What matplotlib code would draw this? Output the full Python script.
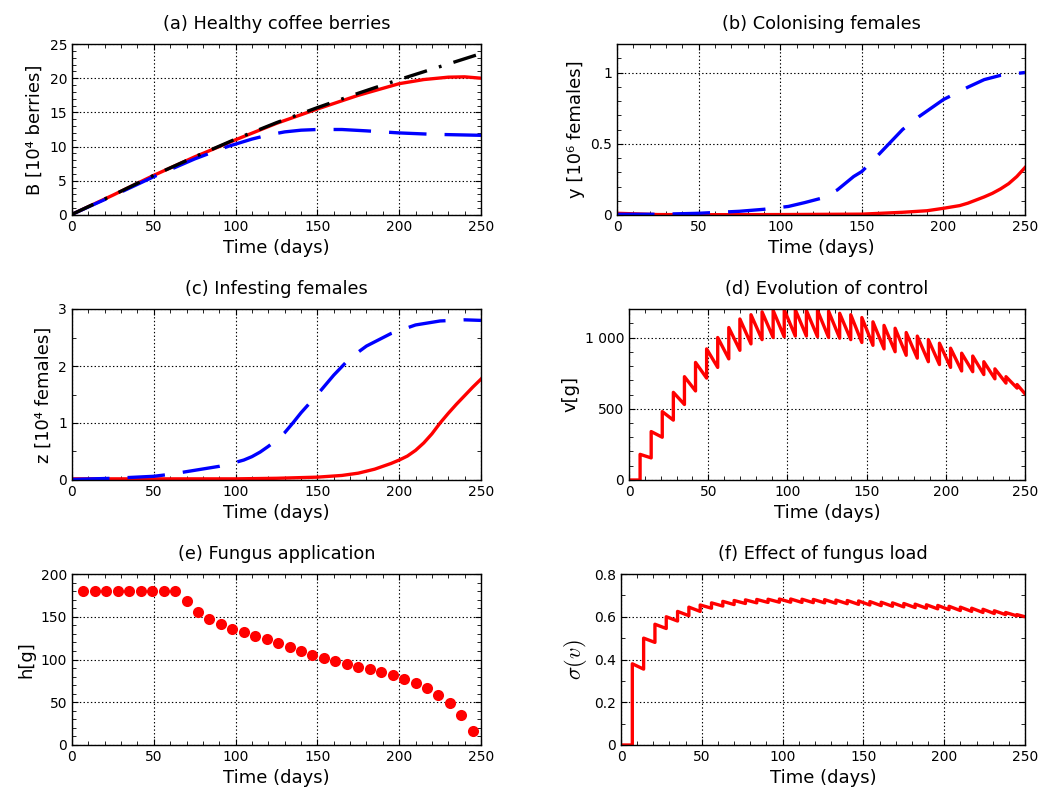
import matplotlib
matplotlib.use("Agg")
import matplotlib.pyplot as plt
import numpy as np
from matplotlib.ticker import MultipleLocator, FuncFormatter

plt.rcParams['font.family'] = ['DejaVu Sans']
plt.rcParams['lines.scale_dashes'] = False

# (a) healthy berries [10^4]
a_black_t = [0, 25, 50, 75, 100, 125, 150, 175, 200, 225, 250]
a_black = [0.1, 2.9, 5.8, 8.5, 11.1, 13.5, 15.7, 17.8, 19.8, 21.7, 23.6]
a_red_t = [0, 25, 50, 75, 100, 125, 150, 175, 200, 215, 230, 240, 250]
a_red = [0.1, 2.9, 5.8, 8.5, 11.0, 13.4, 15.5, 17.5, 19.2, 19.8, 20.15, 20.2, 20.0]
a_blue_t = [0, 25, 50, 75, 95, 110, 120, 130, 140, 150, 165, 180, 200, 220, 250]
a_blue = [0.1, 2.8, 5.6, 8.2, 10.0, 11.1, 11.7, 12.15, 12.4, 12.5, 12.5, 12.3, 12.0, 11.8, 11.65]

# (b) colonising females [10^6]
b_blue_t = [0, 25, 50, 75, 90, 105, 115, 125, 135, 145, 150, 160, 165, 175, 185, 200, 215, 225, 235, 250]
b_blue = [0.005, 0.005, 0.012, 0.026, 0.04, 0.06, 0.087, 0.117, 0.176, 0.27, 0.305, 0.42, 0.48,
          0.6, 0.69, 0.81, 0.897, 0.95, 0.98, 1.0]
b_red_t = [0, 25, 50, 100, 150, 175, 190, 200, 210, 215, 220, 225, 230, 235, 240, 245, 250]
b_red = [0.012, 0.003, 0.002, 0.003, 0.006, 0.019, 0.03, 0.047, 0.066, 0.083, 0.105, 0.127, 0.152,
         0.183, 0.22, 0.27, 0.333]

# (c) infesting females [10^4]
c_blue_t = [0, 25, 50, 60, 75, 90, 100, 105, 110, 115, 120, 125, 130, 135, 140, 150, 160, 170, 180,
            195, 210, 225, 240, 250]
c_blue = [0.01, 0.03, 0.065, 0.1, 0.17, 0.24, 0.31, 0.35, 0.41, 0.49, 0.59, 0.7, 0.83, 1.0, 1.18,
          1.5, 1.84, 2.14, 2.35, 2.57, 2.72, 2.79, 2.81, 2.8]
c_red_t = [0, 50, 100, 125, 150, 165, 175, 185, 195, 200, 205, 210, 215, 220, 225, 230, 235, 240,
           245, 250]
c_red = [0.02, 0.02, 0.02, 0.03, 0.05, 0.08, 0.12, 0.19, 0.29, 0.35, 0.42, 0.52, 0.65, 0.81, 1.0,
         1.17, 1.33, 1.48, 1.63, 1.77]

# fungus applications every week
app_days = [7, 14, 21, 28, 35, 42, 49, 56, 63, 70, 77, 84, 91, 98, 105, 112, 119, 126, 133, 140,
            147, 154, 161, 168, 175, 182, 189, 196, 203, 210, 217, 224, 231, 238, 245]
h_dose = [180, 180, 180, 180, 180, 180, 180, 180, 180, 168, 155, 147, 141, 136, 132, 128, 123.5,
          119, 114.6, 110.3, 105.6, 101.4, 97.9, 94.8, 91.7, 88.5, 85, 81.6, 77.7, 73, 67.2, 59,
          48.9, 35, 16.7]

# (d) control v before / after each application
v_before = [0, 155, 300, 420, 530, 625, 715, 790, 850, 910, 955, 985, 1000, 1005, 1010, 1010,
            1005, 1000, 995, 985, 965, 945, 920, 900, 875, 855, 830, 810, 790, 765, 760, 740,
            710, 680, 645]
v_after = [180, 340, 480, 615, 725, 825, 920, 1000, 1070, 1130, 1160, 1180, 1190, 1195, 1195,
           1190, 1190, 1185, 1170, 1160, 1140, 1110, 1085, 1065, 1035, 1010, 985, 960, 925, 890,
           870, 830, 780, 725, 670]
v_end = 605

# (f) sigma(v) before / after each application
s_before = [0, 0.355, 0.48, 0.545, 0.58, 0.605, 0.625, 0.64, 0.65, 0.657, 0.662, 0.665, 0.667,
            0.668, 0.668, 0.667, 0.666, 0.665, 0.663, 0.661, 0.658, 0.655, 0.652, 0.649, 0.646,
            0.643, 0.640, 0.637, 0.633, 0.629, 0.625, 0.620, 0.615, 0.610, 0.604]
s_after = [0.38, 0.50, 0.565, 0.60, 0.625, 0.645, 0.655, 0.665, 0.672, 0.676, 0.679, 0.681,
           0.682, 0.683, 0.683, 0.682, 0.681, 0.680, 0.678, 0.676, 0.674, 0.671, 0.668, 0.665,
           0.662, 0.659, 0.656, 0.653, 0.649, 0.645, 0.640, 0.635, 0.628, 0.620, 0.610]
s_end = 0.600

T_END = 250


def sawtooth(before, after, end):
    tt, vv = [0], [0]
    for d, b, a in zip(app_days, before, after):
        tt += [d, d]
        vv += [b, a]
    tt.append(T_END)
    vv.append(end)
    return tt, vv


def fmt(v, pos):
    s = f'{v:g}'
    if abs(v) >= 1000:
        s = f'{v:,.0f}'.replace(',', ' ')
    return s


W, H = 1038, 796
fig = plt.figure(figsize=(W / 100, H / 100), dpi=100)

# pixel boxes: left, top, right, bottom
boxes = {
    'a': (72, 44, 481, 215),
    'b': (617, 44, 1025, 215),
    'c': (72, 309, 481, 480),
    'd': (629, 309, 1025, 480),
    'e': (72, 574, 481, 745),
    'f': (621, 574, 1025, 745),
}
axs = {}
for k, (l, t, r, b) in boxes.items():
    axs[k] = fig.add_axes([l / W, 1 - b / H, (r - l) / W, (b - t) / H])

LW = 2.4
blue_dash = (27, 13)
black_dashdot = (17, 9, 2, 9)

ax = axs['a']
ax.plot(a_red_t, a_red, color='red', lw=LW)
ax.plot(a_blue_t, a_blue, color='blue', lw=LW, dashes=blue_dash)
ax.plot(a_black_t, a_black, color='black', lw=LW, dashes=black_dashdot)
ax.set_ylim(0, 25)
ax.yaxis.set_major_locator(MultipleLocator(5))
ax.yaxis.set_minor_locator(MultipleLocator(1))
ax.set_title('(a) Healthy coffee berries')
ax.set_ylabel('B [10⁴ berries]')

ax = axs['b']
ax.plot(b_red_t, b_red, color='red', lw=LW)
ax.plot(b_blue_t, b_blue, color='blue', lw=LW, dashes=blue_dash)
ax.set_ylim(0, 1.2)
ax.yaxis.set_major_locator(MultipleLocator(0.5))
ax.yaxis.set_minor_locator(MultipleLocator(0.1))
ax.set_title('(b) Colonising females')
ax.set_ylabel('y [10⁶ females]')

ax = axs['c']
ax.plot(c_red_t, c_red, color='red', lw=LW)
ax.plot(c_blue_t, c_blue, color='blue', lw=LW, dashes=blue_dash)
ax.set_ylim(0, 3)
ax.yaxis.set_major_locator(MultipleLocator(1))
ax.yaxis.set_minor_locator(MultipleLocator(0.5))
ax.set_title('(c) Infesting females')
ax.set_ylabel('z [10⁴ females]')

ax = axs['d']
tt, vv = sawtooth(v_before, v_after, v_end)
ax.plot(tt, vv, color='red', lw=LW)
ax.set_ylim(0, 1200)
ax.yaxis.set_major_locator(MultipleLocator(500))
ax.yaxis.set_minor_locator(MultipleLocator(100))
ax.set_title('(d) Evolution of control')
ax.set_ylabel('v[g]')

ax = axs['e']
ax.plot(app_days, h_dose, 'o', color='red', markersize=8, markeredgewidth=0)
ax.set_ylim(0, 200)
ax.yaxis.set_major_locator(MultipleLocator(50))
ax.yaxis.set_minor_locator(MultipleLocator(10))
ax.set_title('(e) Fungus application')
ax.set_ylabel('h[g]')

ax = axs['f']
tt, ss = sawtooth(s_before, s_after, s_end)
ax.plot(tt, ss, color='red', lw=LW)
ax.set_ylim(0, 0.8)
ax.yaxis.set_major_locator(MultipleLocator(0.2))
ax.yaxis.set_minor_locator(MultipleLocator(0.1))
ax.set_title('(f) Effect of fungus load')
ax.set_ylabel(r'$\sigma(v)$', math_fontfamily='cm')

for k, ax in axs.items():
    ax.set_xlim(0, T_END)
    ax.xaxis.set_major_locator(MultipleLocator(50))
    ax.xaxis.set_minor_locator(MultipleLocator(10))
    ax.yaxis.set_major_formatter(FuncFormatter(fmt))
    ax.grid(True, which='major', linestyle=':', color='black', linewidth=0.8)
    ax.tick_params(which='both', direction='in', top=True, right=True, labelsize=10)
    ax.tick_params(which='major', length=4.5)
    ax.tick_params(which='minor', length=3)
    ax.set_xlabel('Time (days)', fontsize=13)
    ax.yaxis.label.set_size(13 if k != 'f' else 16)
    ax.set_title(ax.get_title(), pad=11, fontsize=12.8)
    for sp in ax.spines.values():
        sp.set_linewidth(1.0)

fig.savefig('out.png', dpi=100)
